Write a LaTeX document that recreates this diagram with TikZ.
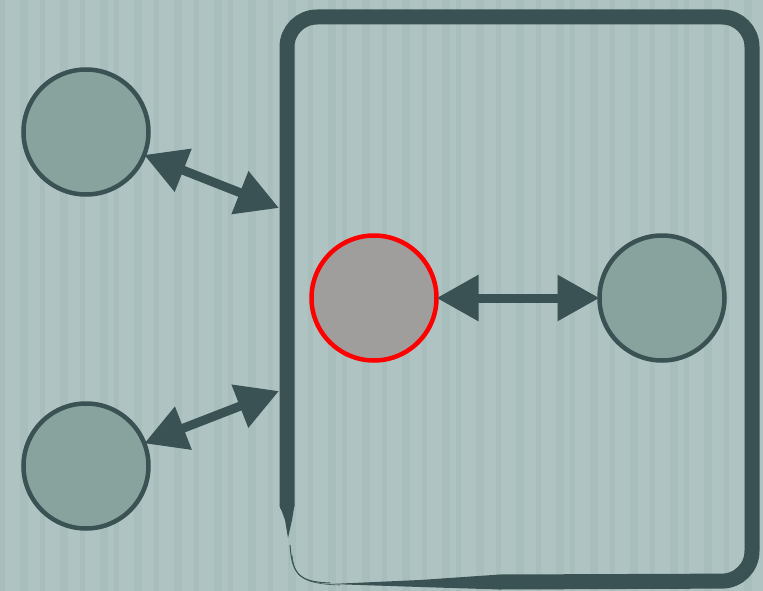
\documentclass[tikz,border=0pt]{standalone}
\usetikzlibrary{arrows.meta}
\definecolor{bgc}{HTML}{AFC4C2}
\definecolor{stripe}{HTML}{9DB4B1}
\definecolor{dark}{HTML}{3A5254}
\definecolor{cfill}{HTML}{88A39E}
\definecolor{rfill}{HTML}{A09E9C}
\tikzset{
  ent/.style={circle, draw=dark, fill=cfill, line width=4.5pt, minimum size=125pt, inner sep=0pt, outer sep=0pt},
  hot/.style={ent, draw=red, fill=rfill},
  link/.style={draw=dark, line width=9pt, {Triangle[length=42pt,width=44pt]}-{Triangle[length=42pt,width=44pt]}},
  frame/.style={draw=dark, line width=15pt, rounded corners=30pt, line cap=round}
}
\begin{document}
\begin{tikzpicture}[x=1pt,y=-1pt]
\useasboundingbox (0,0) rectangle (763,591);
\fill[bgc] (0,0) rectangle (763,591);
\foreach \i in {0,...,40}{
  \pgfmathsetmacro{\xx}{\i*19+mod(\i*7,6)}
  \pgfmathsetmacro{\ww}{5+mod(\i*3,6)}
  \fill[stripe, opacity=0.35] (\xx,0) rectangle ++(\ww,591);
}
% frame
\draw[frame] (287,505) -- (287,17) -- (752,17) -- (752,581) -- (500,582);
\fill[dark] (279.5,505) -- (294.5,505) -- (292,520) -- (288,538) -- (285,520) -- cycle;
\fill[dark] (500,574.5) -- (500,589.5) -- (420,587) -- (330,584) -- (420,580) -- cycle;
\draw[dark, line width=1pt] (330,583) .. controls (300,582) and (292,575) .. (290,545);
\draw[dark, line width=0.6pt] (340,585) .. controls (302,584) and (294,576) .. (292,555);
% nodes
\node[ent] (a) at (86,132) {};
\node[ent] (b) at (86,466) {};
\node[hot] (c) at (374,298) {};
\node[ent] (d) at (662,298) {};
\coordinate (fa) at (279,208);
\coordinate (fb) at (279,391);
% connectors
\draw[link] (a) -- (fa);
\draw[link] (b) -- (fb);
\draw[link] (c) -- (d);
\end{tikzpicture}
\end{document}
